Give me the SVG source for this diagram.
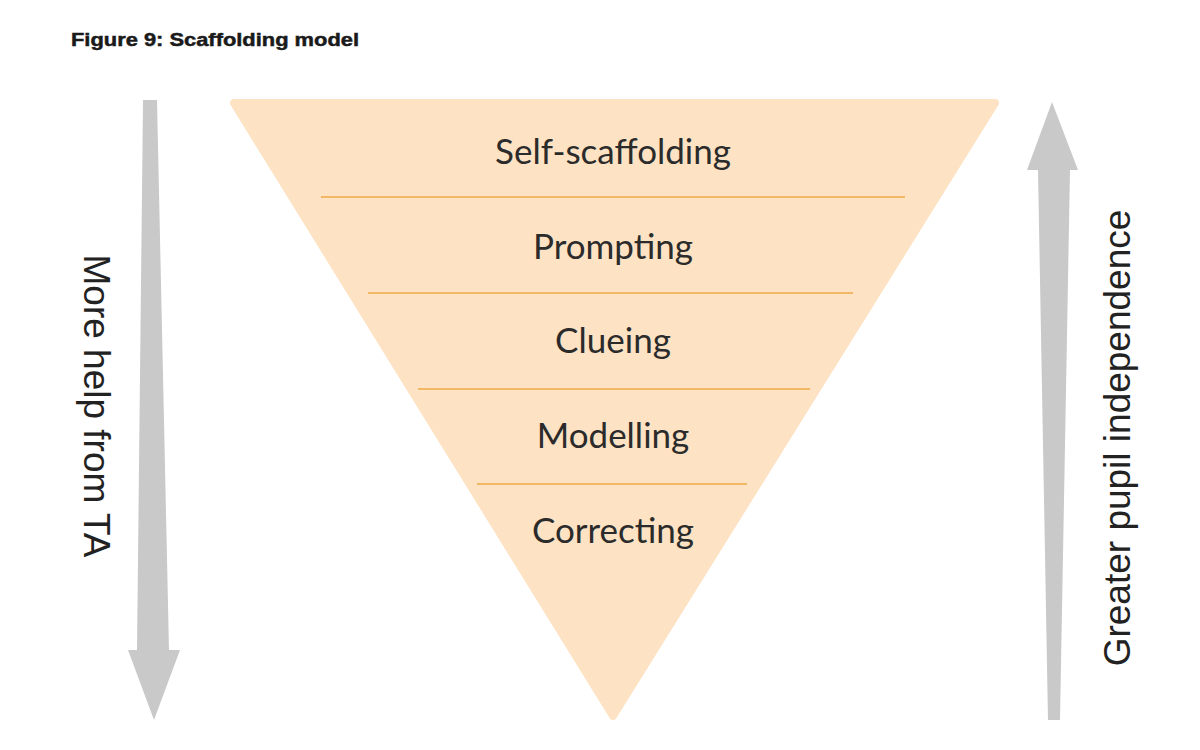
<svg xmlns="http://www.w3.org/2000/svg" width="1200" height="750" viewBox="0 0 1200 750">
<style>
.title{font-family:"Liberation Sans",Arial,sans-serif;font-weight:bold;font-size:19px;fill:#1a1a1a;stroke:#1a1a1a;stroke-width:0.5}
.lvl{font-family:Lato,"Noto Sans",sans-serif;font-size:35px;fill:#2b2b2b;text-anchor:middle}
.side{font-family:"Liberation Sans",Arial,sans-serif;font-size:37px;fill:#222;text-anchor:middle}
.arrow{fill:#c9c9c9}
.sep{stroke:#f2b866;stroke-width:2}
</style>
<rect width="1200" height="750" fill="#ffffff"/>
<text class="title" x="71" y="46" textLength="288" lengthAdjust="spacingAndGlyphs">Figure 9: Scaffolding model</text>
<g id="pyramid">
<polygon points="234,103 995,103 613,716" fill="#fde2c3" stroke="#fde2c3" stroke-width="8" stroke-linejoin="round"/>
</g>
<g id="connectors">
<line class="sep" x1="321" y1="197" x2="905" y2="197"/>
<line class="sep" x1="368" y1="293" x2="853" y2="293"/>
<line class="sep" x1="418" y1="389" x2="810" y2="389"/>
<line class="sep" x1="477" y1="484" x2="747" y2="484"/>
</g>
<g id="level-self-scaffolding"><text class="lvl" x="613" y="164">Self-scaffolding</text></g>
<g id="level-prompting"><text class="lvl" x="613" y="259">Prompting</text></g>
<g id="level-clueing"><text class="lvl" x="613" y="353">Clueing</text></g>
<g id="level-modelling"><text class="lvl" x="613" y="448">Modelling</text></g>
<g id="level-correcting"><text class="lvl" x="613" y="543">Correcting</text></g>
<g id="arrow-left">
<polygon class="arrow" points="143,100 157,100 169,650 180,650 154,720 128,650 137,650"/>
<text class="side" transform="translate(84,406) rotate(90)">More help from TA</text>
</g>
<g id="arrow-right">
<polygon class="arrow" points="1052,102 1078,170 1070,170 1060,720 1048,720 1038,170 1027,170"/>
<text class="side" transform="translate(1130,438) rotate(-90)">Greater pupil independence</text>
</g>
</svg>
